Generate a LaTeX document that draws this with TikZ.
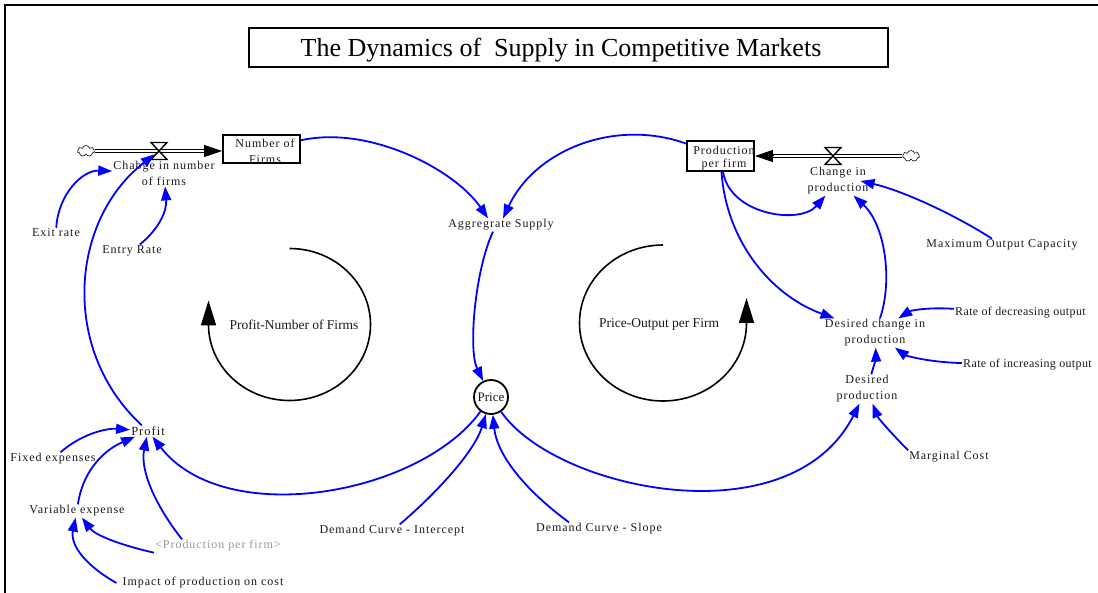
\documentclass[tikz,border=0pt]{standalone}
\usepackage{fontspec}
\setmainfont{Liberation Serif}
\newfontfamily\lblfam[LetterSpace=8]{Liberation Serif}
\newfontfamily\edgefam[LetterSpace=3]{Liberation Serif}
\usetikzlibrary{arrows.meta,shapes.symbols,shapes.geometric}
\definecolor{linkblue}{RGB}{0,0,255}
\definecolor{shadowgray}{RGB}{150,150,150}
\definecolor{inktext}{RGB}{25,25,25}
\begin{document}
\begin{tikzpicture}[x=1pt,y=-1pt,
  lbl/.style={font=\lblfam\fontsize{12}{16}\selectfont, inner sep=1pt, align=center, text=inktext},
  edgelbl/.style={font=\edgefam\fontsize{12}{16}\selectfont, inner sep=1pt, align=center, text=inktext},
  looplbl/.style={font=\fontsize{13.5}{16}\selectfont, inner sep=1pt, text=inktext},
  link/.style={draw=linkblue, line width=1.8pt, -{Triangle[length=14pt,width=10pt]}},
  stockbox/.style={draw, line width=1.8pt, inner sep=0pt, fill=white},
  pipe/.style={draw=black, line width=1.3pt, double=white, double distance=2.2pt},
  flowtip/.style={draw=black, line width=1pt, -{Triangle[length=18pt,width=12pt]}},
  cloudy/.style={cloud, cloud puffs=7, aspect=1.6, draw, line width=0.6pt, minimum width=17pt, minimum height=11pt, inner sep=0pt},
  valvept/.style={inner sep=0pt, minimum size=8pt},
  loopline/.style={draw=black, line width=1.6pt, -{Triangle[length=25pt,width=15pt]}},
  hourglass/.pic={\draw[fill=white, line width=1.4pt] (-8,-8.5) -- (8,-8.5) -- (-8,8.5) -- (8,8.5) -- cycle;}
]
\useasboundingbox (0,0) rectangle (1098,593);
\clip (0,0) rectangle (1098,593);
% outer frame
\draw[line width=2pt] (5,5) rectangle (1200,700);

% title
\node[draw, line width=1.5pt, minimum width=639pt, minimum height=39pt, inner sep=0pt] (titlebox) at (568.5,47.5) {};
\node[font=\fontsize{26}{30}\selectfont, inner sep=0pt] (title) at (561,50) {The Dynamics of\ \ Supply in Competitive Markets};

% stocks
\node[stockbox, minimum width=77pt, minimum height=28pt] (nf) at (261.5,149) {};
\begin{scope}
  \clip ([xshift=-20pt]nf.south west) rectangle ([xshift=20pt]nf.north east);
  \node[lbl] (nftext) at (265,151) {Number of\\Firms};
\end{scope}
\node[stockbox, minimum width=67pt, minimum height=30pt] (ppf) at (720.5,156) {};
\begin{scope}
  \clip ([xshift=-20pt]ppf.south west) rectangle ([xshift=20pt]ppf.north east);
  \node[lbl, font=\lblfam\fontsize{12}{13}\selectfont] (ppftext) at (724,158) {Production\\per firm};
\end{scope}

% clouds and valves
\node[cloudy] (c1) at (86,151) {};
\node[cloudy] (c2) at (911,156) {};
\node[valvept] (v1) at (159,151) {};
\node[valvept] (v2) at (833,156) {};

% flows
\draw[pipe] (c1.east) -- ([xshift=-17pt]nf.west |- c1.east);
\draw[flowtip] ([xshift=-18pt]nf.west |- c1.east) -- (nf.west |- c1.east);
\draw[pipe] (c2.west) -- ([xshift=17pt]ppf.east |- c2.west);
\draw[flowtip] ([xshift=18pt]ppf.east |- c2.west) -- (ppf.east |- c2.west);
\pic at (v1) {hourglass};
\pic at (v2) {hourglass};

% variables
\node[lbl] (chg) at (164,173) {Chabge in number\\of firms};
\node[lbl] (exit) at (56,233) {Exit rate};
\node[lbl] (entry) at (132,251) {Entry Rate};
\node[lbl] (aggs) at (501,225) {Aggregrate Supply};
\node[circle, draw, line width=1.8pt, minimum size=34pt, inner sep=0pt, text=inktext, font=\fontsize{13}{16}\selectfont] (price) at (491,397) {Price};
\node[lbl, font=\lblfam\fontsize{12.5}{16}\selectfont] (profit) at (148,431) {Profit};
\node[lbl] (fixed) at (53,459) {Fixed expenses};
\node[lbl] (varexp) at (77,511) {Variable expense};
\node[lbl, text=shadowgray] (ppf2) at (218,546) {\textless Production per firm\textgreater};
\node[lbl] (impact) at (203,583) {Impact of production on cost};
\node[lbl] (dci) at (392,531) {Demand Curve - Intercept};
\node[lbl] (dcs) at (599,529) {Demand Curve - Slope};
\node[lbl] (chp) at (838,181) {Change in\\production};
\node[lbl] (maxc) at (1002,245) {Maximum Output Capacity};
\node[lbl] (dchg) at (875,333) {Desired change in\\production};
\node[edgelbl, anchor=west] (rdec) at (954,313) {Rate of decreasing output};
\node[edgelbl, anchor=west] (rinc) at (962,365) {Rate of increasing output};
\node[lbl] (dprod) at (867,389) {Desired\\production};
\node[lbl] (mc) at (949,457) {Marginal Cost};

% loops
\draw[loopline] (289.5,248.5) arc[start angle=90, end angle=-180, x radius=81pt, y radius=76pt] -- ++(0,-24);
\node[looplbl] (loop1) at (294,325) {Profit-Number of Firms};
\draw[loopline] (663,245) arc[start angle=90, end angle=360, x radius=83.5pt, y radius=78pt] -- ++(0,-25);
\node[looplbl] (loop2) at (659,324) {Price-Output per Firm};

% links
\draw[link] (exit) .. controls (58,195) and (82,170) .. (chg);
\draw[link] (entry) .. controls (160,228) and (167,210) .. (chg);
\draw[link] (profit) .. controls (60,350) and (70,220) .. (v1);
\draw[link] (nf) .. controls (370,125) and (455,170) .. ([xshift=-13pt]aggs.north);
\draw[link] (ppf) .. controls (615,118) and (535,150) .. ([xshift=2pt]aggs.north);
\draw[link] ([xshift=-8pt]aggs.south) .. controls (475,270) and (468,350) .. (price);
\draw[link] (price) .. controls (420,495) and (225,530) .. (profit);
\draw[link] (price) .. controls (555,490) and (790,540) .. (dprod);
\draw[link] (dci) .. controls (440,490) and (475,450) .. (price);
\draw[link] ([xshift=-30pt]dcs.north) .. controls (525,490) and (497,455) .. (price);
\draw[link] (ppf) .. controls (730,215) and (800,225) .. (chp);
\draw[link] (ppf) .. controls (726,240) and (770,295) .. (dchg);
\draw[link] (dchg) .. controls (893,280) and (885,225) .. (chp);
\draw[link] (maxc) .. controls (950,212) and (900,190) .. ([xshift=-9pt]chp.east);
\draw[link] (rdec) .. controls (925,307) and (910,311) .. (dchg);
\draw[link] (rinc) .. controls (925,362) and (905,355) .. (dchg);
\draw[link] (dprod) .. controls (874,365) and (876,358) .. (dchg);
\draw[link] (mc.north west) .. controls (890,432) and (878,418) .. (dprod);
\draw[link] (fixed) .. controls (80,435) and (105,428) .. (profit);
\draw[link] (varexp) .. controls (82,475) and (100,452) .. (profit);
\draw[link] ([xshift=-36pt]ppf2.north) .. controls (155,505) and (140,470) .. (profit);
\draw[link] (ppf2.south west) .. controls (120,545) and (95,535) .. (varexp);
\draw[link] ([xshift=-5pt]impact.west) .. controls (85,565) and (70,545) .. (varexp);
\end{tikzpicture}
\end{document}
